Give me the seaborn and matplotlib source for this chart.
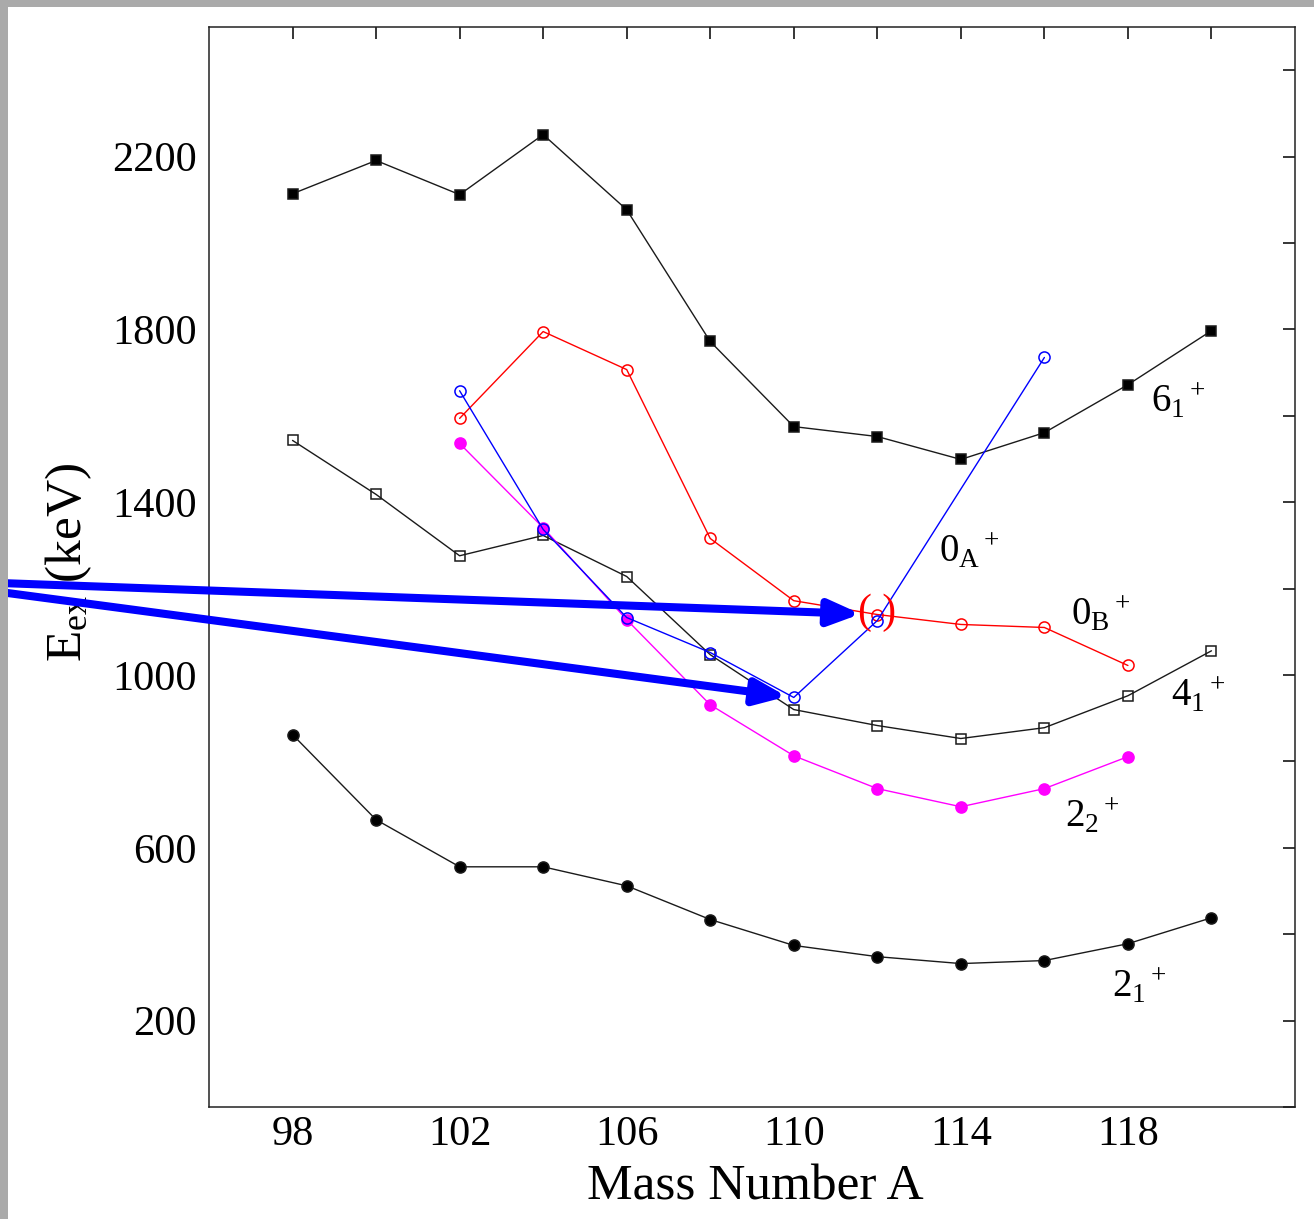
import matplotlib
matplotlib.use("Agg")
import matplotlib.pyplot as plt
from matplotlib.patches import Rectangle
import numpy as np
import pandas as pd
import seaborn as sns

# excitation energies (keV) vs mass number
a_full = [98, 100, 102, 104, 106, 108, 110, 112, 114, 116, 118, 120]
e_6_1 = [2114, 2191, 2112, 2251, 2077, 1772, 1575, 1552, 1499, 1561, 1672, 1797]
e_4_1 = [1543, 1418, 1276, 1323, 1228, 1047, 920, 883, 853, 878, 952, 1056]
e_2_1 = [862, 665, 556, 556, 512, 434, 374, 348, 332, 339, 378, 438]

a_2_2 = [102, 104, 106, 108, 110, 112, 114, 116, 118]
e_2_2 = [1536, 1341, 1128, 931, 813, 737, 695, 737, 811]

a_0_b = [102, 104, 106, 108, 110, 112, 114, 116, 118]
e_0_b = [1594, 1795, 1707, 1316, 1172, 1140, 1117, 1110, 1022]

a_0_a = [102, 104, 106, 108, 110, 112, 116]
e_0_a = [1658, 1337, 1133, 1052, 948, 1126, 1735]

x_ticks = list(range(98, 121, 2))
y_ticks = list(range(0, 2401, 200))

series = [
    ("6_1", a_full, e_6_1),
    ("4_1", a_full, e_4_1),
    ("2_1", a_full, e_2_1),
    ("2_2", a_2_2, e_2_2),
    ("0_B", a_0_b, e_0_b),
    ("0_A", a_0_a, e_0_a),
]
df = pd.concat(
    [pd.DataFrame({"state": name, "A": a, "E": e}) for name, a, e in series],
    ignore_index=True,
)

styles = {
    "6_1": dict(color="#1a1a1a", marker="s", ms=7, mfc="black"),
    "4_1": dict(color="#1a1a1a", marker="s", ms=7, mfc="none"),
    "2_1": dict(color="#1a1a1a", marker="o", ms=8, mfc="black"),
    "2_2": dict(color="#ff00ff", marker="o", ms=8, mfc="#ff00ff"),
    "0_B": dict(color="#ff0000", marker="o", ms=8, mfc="none"),
    "0_A": dict(color="#0000ff", marker="o", ms=8, mfc="none"),
}

labels = {
    "6_1": (118.55, 1607, r"$\mathrm{6_1{}^+}$"),
    "0_A": (113.48, 1260, r"$\mathrm{0_A{}^+}$"),
    "0_B": (116.64, 1114, r"$\mathrm{0_B{}^+}$"),
    "4_1": (119.03, 927, r"$\mathrm{4_1{}^+}$"),
    "2_2": (116.49, 647, r"$\mathrm{2_2{}^+}$"),
    "2_1": (117.62, 253, r"$\mathrm{2_1{}^+}$"),
}

sns.set_style("white")
plt.rcParams["font.family"] = ["Liberation Serif", "DejaVu Serif"]
plt.rcParams["mathtext.fontset"] = "custom"
plt.rcParams["mathtext.rm"] = "Liberation Serif"
plt.rcParams["mathtext.it"] = "Liberation Serif:italic"
plt.rcParams["text.color"] = "black"
plt.rcParams["axes.labelcolor"] = "black"
plt.rcParams["xtick.color"] = "black"
plt.rcParams["ytick.color"] = "black"

fig = plt.figure(figsize=(13.14, 12.19), dpi=100)
fig.patch.set_facecolor("white")
ax = fig.add_axes([209 / 1314, 1 - 1107 / 1219, 1086 / 1314, 1080 / 1219])

for name, sub in df.groupby("state", sort=False):
    st = styles[name]
    sns.lineplot(
        data=sub, x="A", y="E", ax=ax, color=st["color"], lw=1.0,
        marker=st["marker"], markersize=st["ms"], markerfacecolor=st["mfc"],
        markeredgecolor=st["color"], markeredgewidth=1.1, estimator=None,
    )

for name, (lx, ly, txt) in labels.items():
    ax.text(lx, ly, txt, fontsize=28, ha="left", va="baseline", color="black")

# highlighted point
ax.text(112, 1145, "( )", fontsize=30, color="#ff0000", ha="center", va="center")

ax.set_xlim(96, 122)
ax.set_ylim(0, 2500)
ax.set_xticks(x_ticks)
ax.set_xticklabels([str(t) if (t - 98) % 4 == 0 else "" for t in x_ticks])
ax.set_yticks(y_ticks)
ax.set_yticklabels([str(t) if (t - 200) % 400 == 0 else "" for t in y_ticks])
ax.tick_params(axis="both", direction="in", length=8.5, width=1.1,
               top=True, right=True, labelsize=30.5, colors="black")
ax.tick_params(axis="x", pad=6)
ax.tick_params(axis="y", pad=9)
for sp in ax.spines.values():
    sp.set_linewidth(1.1)
    sp.set_color("#222222")

ax.set_xlabel("Mass Number A", fontsize=37)
ax.set_ylabel(r"$\mathrm{E_{ex}}$ (keV)", fontsize=37)
ax.xaxis.set_label_coords(0.503, -0.053)
ax.yaxis.set_label_coords(-0.106, 0.504)

# gray frame strips
fig.patches.append(Rectangle((0, 1 - 7 / 1219), 1, 7 / 1219, transform=fig.transFigure,
                             facecolor="#aaaaaa", edgecolor="none", zorder=0))
fig.patches.append(Rectangle((0, 0), 8 / 1314, 1, transform=fig.transFigure,
                             facecolor="#aaaaaa", edgecolor="none", zorder=0))

# arrows pointing to the two 0_A+ points
for target, tail_y, shrink in [((112, 1140), 1 - 583 / 1219, 12), ((110, 948), 1 - 592 / 1219, 5)]:
    ax.annotate(
        "", xy=target, xycoords="data", xytext=(0.0, tail_y), textcoords="figure fraction",
        annotation_clip=False,
        arrowprops=dict(arrowstyle="-|>,head_length=1.1,head_width=0.45", color="#0000ff",
                        lw=5.8, mutation_scale=17, shrinkA=0, shrinkB=shrink),
        zorder=10,
    )

fig.savefig("out.png", dpi=100)
